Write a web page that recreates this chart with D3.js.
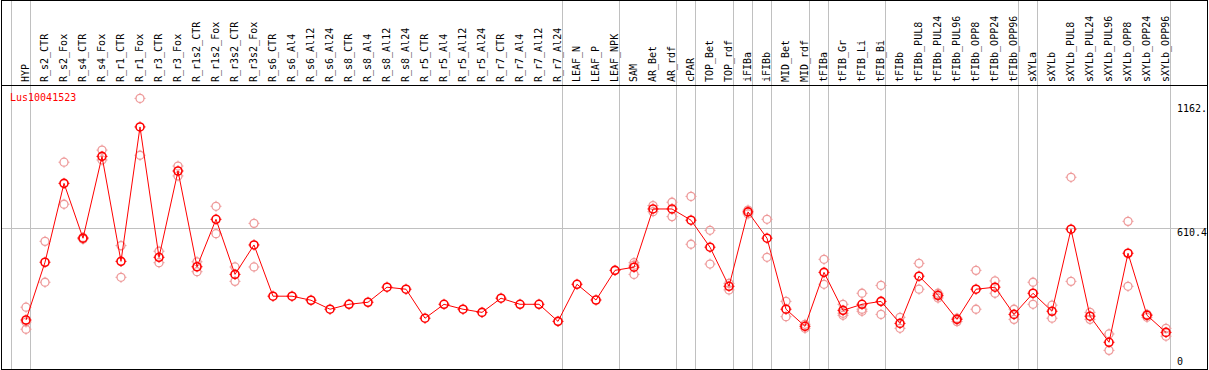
<!DOCTYPE html>
<html><head><meta charset="utf-8">
<script src="https://cdn.jsdelivr.net/npm/d3@7"></script>
<style>body{margin:0;background:#fff;}svg{display:block;}</style>
</head><body>
<script>
const categories = ["HYP","R_s2_CTR","R_s2_Fox","R_s4_CTR","R_s4_Fox","R_r1_CTR","R_r1_Fox","R_r3_CTR","R_r3_Fox","R_r1s2_CTR","R_r1s2_Fox","R_r3s2_CTR","R_r3s2_Fox","R_s6_CTR","R_s6_Al4","R_s6_Al12","R_s6_Al24","R_s8_CTR","R_s8_Al4","R_s8_Al12","R_s8_Al24","R_r5_CTR","R_r5_Al4","R_r5_Al12","R_r5_Al24","R_r7_CTR","R_r7_Al4","R_r7_Al12","R_r7_Al24","LEAF_N","LEAF_P","LEAF_NPK","SAM","AR_Bet","AR_rdf","cPAR","TOP_Bet","TOP_rdf","iFIBa","iFIBb","MID_Bet","MID_rdf","tFIBa","tFIB_Gr","tFIB_Li","tFIB_Bi","tFIBb","tFIBb_PUL8","tFIBb_PUL24","tFIBb_PUL96","tFIBb_OPP8","tFIBb_OPP24","tFIBb_OPP96","sXYLa","sXYLb","sXYLb_PUL8","sXYLb_PUL24","sXYLb_PUL96","sXYLb_OPP8","sXYLb_OPP24","sXYLb_OPP96"];

const meanValues = [201,458,809,565,929,462,1060,480,864,438,649,404,535,307,307,289,249,271,280,347,338,209,271,249,235,298,271,271,195,360,290,422,436,695,695,645,525,351,682,565,249,173,413,244,271,284,186,396,311,204,338,347,226,320,240,605,218,102,498,222,146];

const replicateValues = [
 [258,192,160],[551,369],[903,716],[568,561],[957,913],[532,391],[1187,934],[507,456],[886,842],[460,416],
 [707,585],[437,373],[631,437],[],[],[],[],[],[],[],
 [],[],[],[],[],[],[],[],[],[],
 [],[],[456,445,404],[710,683],[725,661],[751,538],[600,450],[364,335],[690,673],[649,480],
 [284,216],[182,164],[471,360],[271,231,222],[320,249,240],[355,226],[213,164],[453,338],[320,308,299],[209,194],
 [422,249],[375,320],[249,204],[369,271],[267,209],[836,373],[235,204],[139,66],[640,351],[226,213],
 [164,129]
];

const groupStarts = ["HYP","R_s2_CTR","LEAF_N","SAM","cPAR","TOP_Bet","iFIBa","iFIBb","MID_Bet","tFIBa","tFIB_Gr","tFIBb","sXYLa","sXYLb"];
const axisTicks = [0, 610.4, 1162];
const axisTickLabels = ["0", "610.4", "1162."];
const geneName = "Lus10041523";

const W = 1209, H = 370;
const svg = d3.select("body").append("svg").attr("width", W).attr("height", H);
const font = "'DejaVu Sans Mono', monospace";

const x = d3.scaleBand().domain(categories).range([11, 11 + categories.length * 19]).padding(0);
const y = d3.scaleLinear().domain([0, 1162]).range([365.2, 104]);
const px = d => x(d) + 15;

// vertical group lines
const vlines = groupStarts.map(g => x(g)).concat([x.range()[1]]);
svg.selectAll(".vl").data(vlines).enter().append("line")
  .attr("x1", d => Math.round(d) + 0.5).attr("x2", d => Math.round(d) + 0.5)
  .attr("y1", 0).attr("y2", H).attr("stroke", "#c0c0c0").attr("stroke-width", 1);

// horizontal grid line at middle tick
svg.append("line").attr("x1", 1).attr("x2", 1207)
  .attr("y1", Math.round(y(axisTicks[1])) + 0.5).attr("y2", Math.round(y(axisTicks[1])) + 0.5)
  .attr("stroke", "#c0c0c0").attr("stroke-width", 1);

// header labels
svg.selectAll(".lab").data(categories).enter().append("text")
  .attr("transform", d => `translate(${x(d) + 18},82) rotate(-90)`)
  .attr("font-family", font).attr("font-size", "10px").attr("fill", "#000")
  .text(d => d);

// header separator and border
svg.append("line").attr("x1", 1).attr("x2", 1207).attr("y1", 85.5).attr("y2", 85.5).attr("stroke", "#000");
svg.append("rect").attr("x", 1.5).attr("y", 0.5).attr("width", 1206).attr("height", 369)
  .attr("fill", "none").attr("stroke", "#000");

// gene label
svg.append("text").attr("x", 10).attr("y", 101).attr("font-family", font).attr("font-size", "10px")
  .attr("fill", "#ff0000").text(geneName);

// axis labels
svg.selectAll(".ax").data(axisTicks).enter().append("text")
  .attr("x", 1177)
  .attr("y", (d, i) => i === 0 ? y(d) : y(d) + 8)
  .attr("font-family", font).attr("font-size", "10px").attr("fill", "#000")
  .text((d, i) => axisTickLabels[i]);

function marker(g, cx, cy, color, sw) {
  g.append("circle").attr("cx", cx).attr("cy", cy).attr("r", 4).attr("fill", "none")
    .attr("stroke", color).attr("stroke-width", sw);
  [[0,-1],[0,1],[-1,0],[1,0]].forEach(([dx, dy]) => {
    g.append("line").attr("x1", cx + dx * 4).attr("y1", cy + dy * 4)
      .attr("x2", cx + dx * 5.5).attr("y2", cy + dy * 5.5)
      .attr("stroke", color).attr("stroke-width", 1);
  });
}

// replicates
const repG = svg.append("g");
categories.forEach((c, i) => {
  replicateValues[i].forEach(v => marker(repG, px(c), y(v), "#ee9a9a", 1.3));
});

// mean line
const line = d3.line().x((d, i) => px(categories[i])).y(d => y(d));
svg.append("path").datum(meanValues).attr("d", line).attr("fill", "none")
  .attr("stroke", "#ff0000").attr("stroke-width", 1);

// mean markers
const meanG = svg.append("g");
categories.forEach((c, i) => marker(meanG, px(c), y(meanValues[i]), "#ff0000", 1.6));
</script>
</body></html>
